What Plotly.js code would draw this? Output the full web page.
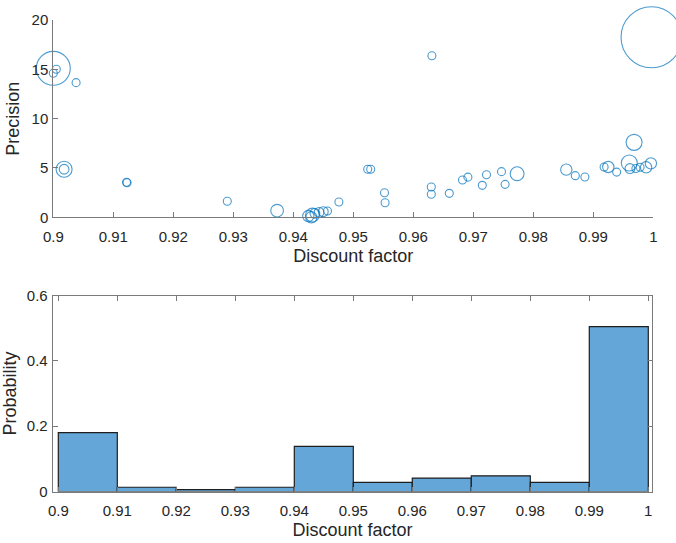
<!DOCTYPE html>
<html>
<head>
<meta charset="utf-8">
<script src="https://cdn.plot.ly/plotly-3.0.1.min.js"></script>
<style>html,body{margin:0;padding:0;background:#fff;}#chart{width:676px;height:543px;}</style>
</head>
<body>
<div id="chart"></div>
<script>
// Scatter: discount factor vs precision, bubble weight
var discountFactor = [0.9000, 0.9005, 0.9000, 0.9038, 0.9018, 0.9018, 0.9122, 0.9123, 0.9290, 0.9373,
  0.9425, 0.9430, 0.9432, 0.9436, 0.9443, 0.9450, 0.9457, 0.9476, 0.9524, 0.9529,
  0.9552, 0.9553, 0.9631, 0.9630, 0.9630, 0.9660, 0.9682, 0.9691, 0.9715, 0.9722,
  0.9747, 0.9753, 0.9773, 0.9855, 0.9870, 0.9886, 0.9918, 0.9925, 0.9939, 0.9960,
  0.9961, 0.9971, 0.9978, 0.9988, 0.9996, 0.9968, 0.9997];
var precision = [15.1, 15.0, 14.6, 13.65, 4.87, 4.87, 3.55, 3.50, 1.62, 0.67,
  0.13, 0.00, 0.23, 0.40, 0.50, 0.57, 0.64, 1.55, 4.87, 4.87,
  2.49, 1.48, 16.38, 3.07, 2.33, 2.43, 3.78, 4.07, 3.24, 4.32,
  4.63, 3.34, 4.42, 4.83, 4.22, 4.09, 5.10, 5.10, 4.58, 5.50,
  4.94, 4.94, 5.07, 5.07, 5.47, 7.60, 18.25];
var weight = [18, 1, 1, 1, 4, 1.5, 1, 1, 1, 2.5,
  2, 2, 3, 1.5, 1.5, 1.5, 1, 1, 1, 1,
  1, 1, 1, 1, 1, 1, 1, 1, 1, 1,
  1, 1, 3, 2, 1, 1, 1, 2, 1, 4,
  1.5, 1, 1, 2, 2, 4, 58];

// Histogram: bin edges and probabilities
var binEdges = [0.90, 0.91, 0.92, 0.93, 0.94, 0.95, 0.96, 0.97, 0.98, 0.99, 1.00];
var probability = [0.180, 0.013, 0.006, 0.013, 0.138, 0.028, 0.041, 0.048, 0.028, 0.505];

var xTicks = [0.9, 0.91, 0.92, 0.93, 0.94, 0.95, 0.96, 0.97, 0.98, 0.99, 1];
var yTicksTop = [0, 5, 10, 15, 20];
var yTicksBottom = [0, 0.2, 0.4, 0.6];

var binCenters = [], binWidths = [];
for (var i = 0; i < probability.length; i++) {
  binCenters.push((binEdges[i] + binEdges[i + 1]) / 2);
  binWidths.push(binEdges[i + 1] - binEdges[i]);
}

var textColor = '#262626';
var axisColor = '#7a7a7a';
var font = 'Liberation Sans, Arial, sans-serif';

var scatter = {
  type: 'scatter', mode: 'markers',
  x: discountFactor, y: precision,
  xaxis: 'x', yaxis: 'y',
  cliponaxis: false,
  marker: {
    size: weight, sizemode: 'area', sizeref: 1 / 32, sizemin: 1,
    color: 'rgba(0,0,0,0)',
    line: {color: 'rgb(0,114,189)', width: 1.1}
  },
  hoverinfo: 'x+y'
};

var hist = {
  type: 'bar',
  x: binCenters, y: probability, width: binWidths,
  xaxis: 'x2', yaxis: 'y2',
  marker: {color: 'rgb(101,166,216)', line: {color: '#1e1e1e', width: 1.2}}
};

var common = {
  showgrid: false, zeroline: false, showline: true, linecolor: axisColor, linewidth: 1,
  ticks: 'inside', ticklen: 5, tickwidth: 1, tickcolor: axisColor,
  tickfont: {family: font, size: 15, color: textColor},
  tickmode: 'array'
};

function ax(extra) { var o = {}; for (var k in common) o[k] = common[k]; for (var k2 in extra) o[k2] = extra[k2]; return o; }

var layout = {
  width: 676, height: 543,
  margin: {l: 0, r: 0, t: 0, b: 0},
  paper_bgcolor: '#fff', plot_bgcolor: '#fff',
  showlegend: false,
  font: {family: font, color: textColor},
  bargap: 0,
  xaxis: ax({domain: [53.3 / 676, 653.3 / 676], range: [0.9, 1.0], anchor: 'y',
    tickvals: xTicks, ticklabelstandoff: 6,
    title: {text: 'Discount factor', font: {family: font, size: 18, color: textColor}, standoff: 5}}),
  yaxis: ax({domain: [(543 - 217.3) / 543, (543 - 20) / 543], range: [0, 20], anchor: 'x',
    tickvals: yTicksTop, ticklabelstandoff: 1,
    title: {text: 'Precision', font: {family: font, size: 18, color: textColor}, standoff: 7}}),
  xaxis2: ax({domain: [52.7 / 676, 652.3 / 676], range: [0.89905, 1.00068], anchor: 'y2',
    tickvals: xTicks, mirror: 'ticks', ticklabelstandoff: 5,
    title: {text: 'Discount factor', font: {family: font, size: 18, color: textColor}, standoff: 5}}),
  yaxis2: ax({domain: [(543 - 491.5) / 543, (543 - 295.5) / 543], range: [0, 0.6], anchor: 'x2',
    tickvals: yTicksBottom, mirror: 'ticks', ticklabelstandoff: 1,
    title: {text: 'Probability', font: {family: font, size: 18, color: textColor}, standoff: 8}})
};

Plotly.newPlot('chart', [scatter, hist], layout, {displayModeBar: false, staticPlot: true});
</script>
</body>
</html>
